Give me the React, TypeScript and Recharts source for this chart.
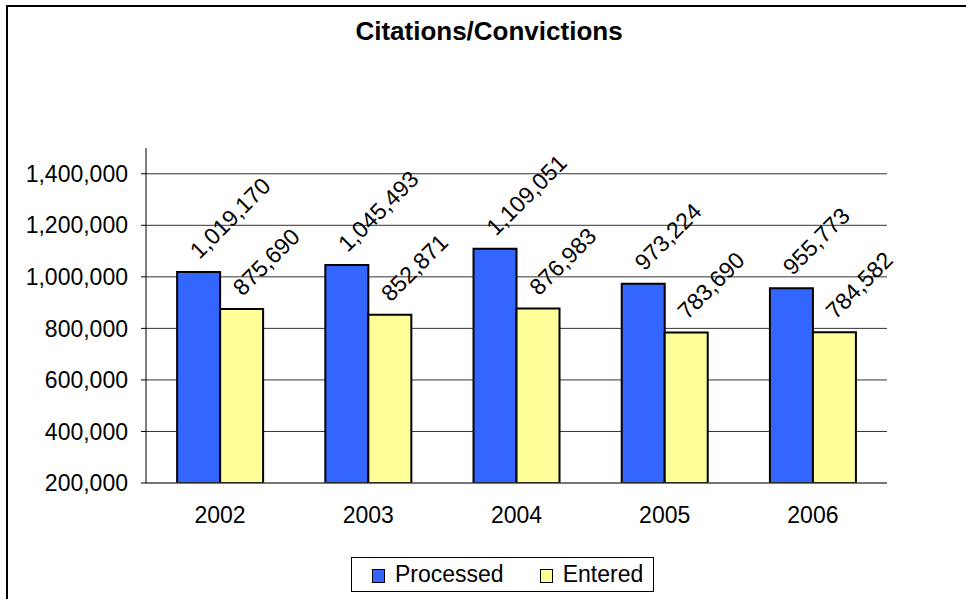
import { BarChart, Bar, XAxis, YAxis, CartesianGrid, Legend, LabelList } from "recharts";

const years = ["2002", "2003", "2004", "2005", "2006"];
const processed = [1019170, 1045493, 1109051, 973224, 955773];
const entered = [875690, 852871, 876983, 783690, 784582];
const yTicks = [200000, 400000, 600000, 800000, 1000000, 1200000, 1400000];

const data = years.map((year, i) => ({
  year,
  Processed: processed[i],
  Entered: entered[i],
}));

const FONT = '"Liberation Sans", Arial, sans-serif';
const fmt = (v: number) => v.toLocaleString("en-US");

function SlantLabel(props: any) {
  const { x, y, width, value } = props;
  const ax = x + width / 2 + 1;
  const ay = y - 12;
  return (
    <text
      x={ax}
      y={ay}
      transform={`rotate(-45, ${ax}, ${ay})`}
      textAnchor="start"
      fontSize={23}
      fontFamily={FONT}
      fill="#000"
    >
      {fmt(value)}
    </text>
  );
}

function LegendBox() {
  const items = [
    { name: "Processed", color: "#3366ff" },
    { name: "Entered", color: "#ffff99" },
  ];
  return (
    <div
      style={{
        width: 301,
        height: 33,
        border: "1px solid #000",
        display: "flex",
        alignItems: "center",
        fontFamily: FONT,
        fontSize: 23,
        color: "#000",
        background: "#fff",
      }}
    >
      {items.map((it, i) => (
        <div
          key={it.name}
          style={{ display: "flex", alignItems: "center", marginLeft: i === 0 ? 20 : 36 }}
        >
          <span
            style={{
              display: "inline-block",
              width: 11,
              height: 12,
              background: it.color,
              border: "1px solid #000",
              marginRight: 10,
              marginTop: 3,
            }}
          />
          <span>{it.name}</span>
        </div>
      ))}
    </div>
  );
}

export default function App() {
  return (
    <div
      style={{
        position: "absolute",
        left: 0,
        top: 0,
        width: 966,
        height: 599,
        background: "#fff",
        overflow: "hidden",
      }}
    >
      <div
        style={{
          position: "absolute",
          left: 6,
          top: 5,
          width: 960,
          height: 594,
          borderLeft: "2px solid #000",
          borderTop: "2px solid #000",
        }}
      />
      <div
        style={{
          position: "absolute",
          left: 0,
          top: 16,
          width: 978,
          textAlign: "center",
          fontFamily: FONT,
          fontWeight: "bold",
          fontSize: 26,
          color: "#000",
        }}
      >
        Citations/Convictions
      </div>
      <BarChart
        width={966}
        height={599}
        data={data}
        margin={{ top: 148, right: 79, bottom: 86, left: 0 }}
        barCategoryGap="21%"
        barGap={0}
        style={{ position: "absolute", left: 0, top: 0 }}
      >
        <CartesianGrid horizontal vertical={false} stroke="#333" horizontalValues={yTicks} />
        <XAxis
          dataKey="year"
          height={30}
          tickLine={false}
          tickSize={0}
          tickMargin={24}
          axisLine={{ stroke: "#555" }}
          tick={{ fontSize: 23, fontFamily: FONT, fill: "#000" }}
        />
        <YAxis
          width={146}
          domain={[200000, 1500000]}
          ticks={yTicks}
          allowDataOverflow
          tickSize={5}
          tickMargin={13}
          tickFormatter={fmt}
          axisLine={{ stroke: "#000" }}
          tickLine={{ stroke: "#000" }}
          tick={{ fontSize: 23, fontFamily: FONT, fill: "#000" }}
        />
        <Legend
          layout="horizontal"
          verticalAlign="middle"
          align="center"
          wrapperStyle={{ left: 351, top: 557, width: 303, height: 35 }}
          content={() => <LegendBox />}
        />
        <Bar dataKey="Processed" fill="#3366ff" stroke="#000" strokeWidth={2} isAnimationActive={false}>
          <LabelList dataKey="Processed" content={SlantLabel} />
        </Bar>
        <Bar dataKey="Entered" fill="#ffff99" stroke="#000" strokeWidth={2} isAnimationActive={false}>
          <LabelList dataKey="Entered" content={SlantLabel} />
        </Bar>
      </BarChart>
    </div>
  );
}
